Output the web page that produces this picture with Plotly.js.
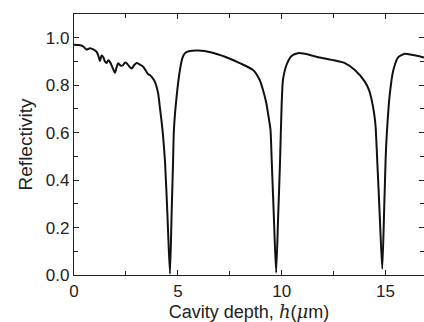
<!DOCTYPE html>
<html>
<head>
<meta charset="utf-8">
<script src="https://cdn.plot.ly/plotly-3.0.1.min.js"></script>
<style>html,body{margin:0;padding:0;background:#fff;}#chart{width:424px;height:322px;}</style>
</head>
<body>
<div id="chart"></div>
<script>
// Cavity depth h (µm)
const depth = [0, 0.3, 0.45, 0.61, 0.77, 0.95, 1.09, 1.17, 1.25, 1.33, 1.41, 1.49, 1.57, 1.65, 1.73, 1.85, 1.97, 2.05, 2.13, 2.25, 2.37, 2.45, 2.53, 2.65, 2.77, 2.9, 3.01, 3.17, 3.33, 3.45, 3.57, 3.65, 3.73, 3.89, 4.05, 4.13, 4.26, 4.38, 4.5, 4.62, 4.7, 4.77, 4.81, 4.94, 5.1, 5.22, 5.34, 5.58, 5.98, 6.62, 7.27, 7.98, 8.62, 8.94, 9.1, 9.26, 9.39, 9.46, 9.52, 9.62, 9.73, 9.83, 9.92, 9.99, 10.06, 10.23, 10.47, 10.78, 11.12, 11.76, 12.56, 13.04, 13.52, 14.0, 14.2, 14.33, 14.45, 14.52, 14.6, 14.72, 14.84, 14.93, 15.0, 15.05, 15.2, 15.37, 15.61, 15.93, 16.25, 16.85];
// Reflectivity
const reflectivity = [0.970, 0.968, 0.963, 0.950, 0.956, 0.950, 0.940, 0.925, 0.902, 0.925, 0.918, 0.900, 0.893, 0.905, 0.898, 0.875, 0.852, 0.875, 0.893, 0.882, 0.885, 0.895, 0.893, 0.880, 0.870, 0.885, 0.893, 0.887, 0.878, 0.862, 0.846, 0.843, 0.836, 0.815, 0.766, 0.710, 0.612, 0.48, 0.25, 0.005, 0.26, 0.48, 0.612, 0.752, 0.864, 0.915, 0.935, 0.944, 0.946, 0.938, 0.920, 0.893, 0.864, 0.822, 0.780, 0.724, 0.654, 0.612, 0.48, 0.25, 0.01, 0.25, 0.48, 0.70, 0.822, 0.885, 0.923, 0.935, 0.932, 0.918, 0.904, 0.893, 0.864, 0.815, 0.780, 0.738, 0.68, 0.626, 0.48, 0.25, 0.025, 0.27, 0.48, 0.58, 0.760, 0.862, 0.918, 0.932, 0.928, 0.917];
const xTickVals = [0, 5, 10, 15];
const xTickText = ['0', '5', '10', '15'];
const yTickVals = [0.0, 0.2, 0.4, 0.6, 0.8, 1.0];
const yTickText = ['0.0', '0.2', '0.4', '0.6', '0.8', '1.0'];

const trace = {
  x: depth, y: reflectivity, type: 'scatter', mode: 'lines',
  line: {color: '#111', width: 2, shape: 'spline', smoothing: 0.6}
};
const axisCommon = {
  showline: true, linecolor: '#222', linewidth: 1.2, mirror: 'ticks',
  ticks: 'inside', ticklen: 5, tickwidth: 1, tickcolor: '#222',
  showgrid: false, zeroline: false,
  tickfont: {family: 'Liberation Sans, Arial, sans-serif', size: 17, color: '#222'}
};
const layout = {
  width: 424, height: 322,
  margin: {l: 74, r: 0, t: 14, b: 47},
  paper_bgcolor: '#fff', plot_bgcolor: '#fff',
  showlegend: false,
  xaxis: Object.assign({}, axisCommon, {
    range: [0, 16.85], tickvals: xTickVals, ticktext: xTickText,
    minor: {ticks: 'inside', ticklen: 4, dtick: 2.5, tick0: 0, tickcolor: '#222', showgrid: false},
    title: {text: 'Cavity depth, <span style="font-family:DejaVu Serif;font-style:italic">h</span>(<span style="font-family:DejaVu Serif;font-style:italic">μ</span>m)',
      font: {family: 'Liberation Sans, Arial, sans-serif', size: 18, color: '#222'}, standoff: 5}
  }),
  yaxis: Object.assign({}, axisCommon, {
    range: [0, 1.1], tickvals: yTickVals, ticktext: yTickText,
    minor: {ticks: 'inside', ticklen: 4, dtick: 0.1, tick0: 0, tickcolor: '#222', showgrid: false},
    title: {text: 'Reflectivity',
      font: {family: 'Liberation Sans, Arial, sans-serif', size: 19, color: '#222'}, standoff: 8}
  })
};
Plotly.newPlot('chart', [trace], layout, {staticPlot: true, displayModeBar: false});
</script>
</body>
</html>
